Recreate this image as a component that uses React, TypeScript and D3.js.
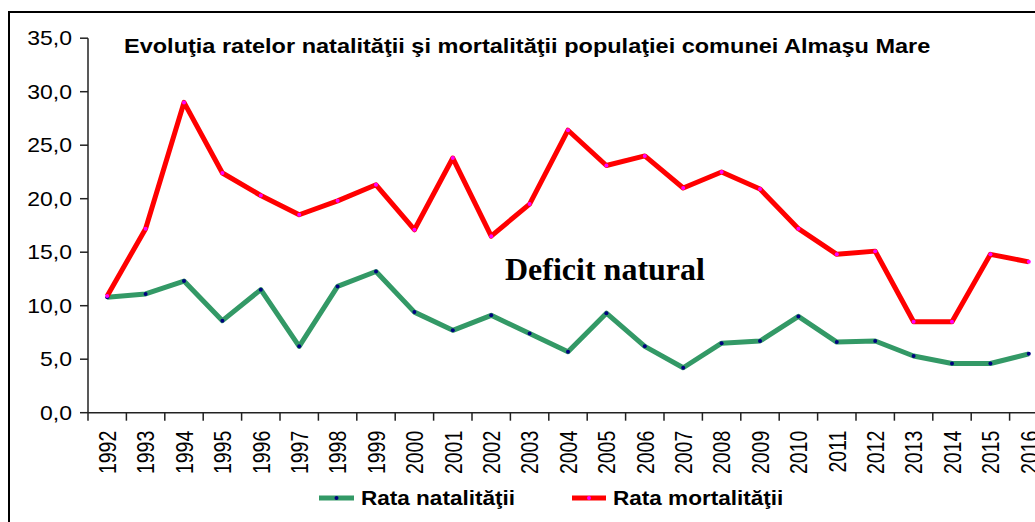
import React from "react";
import * as d3 from "d3";

const years = [
  "1992","1993","1994","1995","1996","1997","1998","1999","2000","2001","2002","2003",
  "2004","2005","2006","2007","2008","2009","2010","2011","2012","2013","2014","2015","2016",
];
const natalitate = [10.8, 11.1, 12.3, 8.6, 11.5, 6.2, 11.8, 13.2, 9.4, 7.7, 9.1, 7.4, 5.7, 9.3, 6.2, 4.2, 6.5, 6.7, 9.0, 6.6, 6.7, 5.3, 4.6, 4.6, 5.5];
const mortalitate = [10.9, 17.2, 29.0, 22.4, 20.3, 18.5, 19.8, 21.3, 17.1, 23.8, 16.5, 19.5, 26.4, 23.1, 24.0, 21.0, 22.5, 20.9, 17.2, 14.8, 15.1, 8.5, 8.5, 14.8, 14.1];
const yTicks = [0, 5, 10, 15, 20, 25, 30, 35];

const W = 1035, H = 522;
const left = 88, top = 38.2, bottom = 412.7, step = 38.4;

export default function App() {
  const x = d3.scaleBand<string>().domain(years).range([left, left + step * years.length]);
  const y = d3.scaleLinear().domain([0, 35]).range([bottom, top]);
  const cx = (yr: string) => (x(yr) as number) + x.bandwidth() / 2;
  const line = d3.line<number>().x((_, i) => cx(years[i])).y((d) => y(d));
  const fmt = (v: number) => v.toFixed(1).replace(".", ",");
  const axisColor = "#222";
  const font = "'Liberation Sans', Arial, sans-serif";

  return (
    <svg width={W} height={H} style={{ position: "absolute", left: 0, top: 0, background: "#fff" }}>
      <rect x={9} y={12} width={1100} height={600} fill="none" stroke="#000" strokeWidth={2} />
      <text
        transform="translate(124,53) scale(1.12,1)"
        fontFamily={font}
        fontWeight="bold"
        fontSize={21}
        fill="#000"
      >
        Evoluţia ratelor natalităţii şi mortalităţii populaţiei comunei Almaşu Mare
      </text>
      {/* Y axis */}
      <line x1={left} x2={left} y1={top} y2={bottom} stroke={axisColor} strokeWidth={1.5} />
      {yTicks.map((t) => (
        <g key={t}>
          <line x1={left - 8} x2={left} y1={y(t)} y2={y(t)} stroke={axisColor} strokeWidth={1.5} />
          <text
            transform={`translate(${left - 16},${y(t)}) scale(1.15,1)`}
            dy="0.36em"
            textAnchor="end"
            fontFamily={font}
            fontSize={20}
            fill="#000"
          >
            {fmt(t)}
          </text>
        </g>
      ))}
      {/* X axis */}
      <line x1={left} x2={W + 20} y1={bottom} y2={bottom} stroke={axisColor} strokeWidth={1.5} />
      {years.map((yr) => (
        <g key={yr}>
          <line x1={x(yr)} x2={x(yr)} y1={bottom} y2={bottom + 8} stroke={axisColor} strokeWidth={1.5} />
          <text
            transform={`translate(${cx(yr)},${bottom + 18}) scale(1.25,1) rotate(-90)`}
            textAnchor="end"
            dy="0.36em"
            fontFamily={font}
            fontSize={19.5}
            fill="#000"
          >
            {yr}
          </text>
        </g>
      ))}
      {/* Lines */}
      <path d={line(natalitate) || ""} fill="none" stroke="#339966" strokeWidth={5} strokeLinejoin="round" />
      <path d={line(mortalitate) || ""} fill="none" stroke="#FF0000" strokeWidth={5} strokeLinejoin="round" />
      {natalitate.map((v, i) => (
        <circle key={"n" + i} cx={cx(years[i])} cy={y(v)} r={2} fill="#000080" />
      ))}
      {mortalitate.map((v, i) => (
        <circle key={"m" + i} cx={cx(years[i])} cy={y(v)} r={2} fill="#FF00FF" />
      ))}
      <text x={505} y={280} fontFamily="'Liberation Serif', 'Times New Roman', serif" fontWeight="bold" fontSize={32} fill="#000">
        Deficit natural
      </text>
      {/* Legend */}
      <line x1={319} x2={354} y1={498} y2={498} stroke="#339966" strokeWidth={5} />
      <circle cx={336.5} cy={498} r={2} fill="#000080" />
      <text
        transform="translate(361,498) scale(1.1,1)"
        dy="0.36em"
        fontFamily={font}
        fontWeight="bold"
        fontSize={20.5}
        fill="#000"
      >
        Rata natalităţii
      </text>
      <line x1={572} x2={606} y1={498} y2={498} stroke="#FF0000" strokeWidth={5} />
      <circle cx={589} cy={498} r={2} fill="#FF00FF" />
      <text
        transform="translate(613,498) scale(1.1,1)"
        dy="0.36em"
        fontFamily={font}
        fontWeight="bold"
        fontSize={20.5}
        fill="#000"
      >
        Rata mortalităţii
      </text>
    </svg>
  );
}
